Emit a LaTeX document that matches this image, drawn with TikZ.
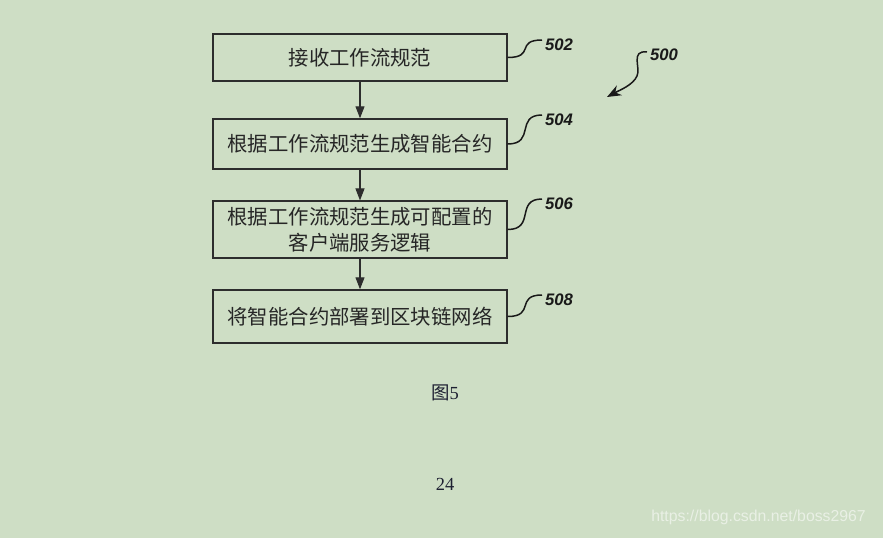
\documentclass[tikz,border=0pt]{standalone}
\usepackage{fontspec}
\setmainfont{Liberation Serif}
\newfontfamily\cjk{Noto Sans CJK SC}
\newfontfamily\refsans{Liberation Sans}
\usetikzlibrary{arrows.meta, positioning, calc}
\definecolor{bggreen}{RGB}{206,222,197}
\definecolor{linegray}{RGB}{45,45,45}
\definecolor{capblue}{RGB}{30,32,50}
\tikzset{
    stepbox/.style={draw=linegray, line width=0.8pt, minimum width=5.88cm,
        minimum height=1cm, align=center, text=black!85,
        font=\cjk\fontsize{11.6}{14.8}\selectfont},
    flow/.style={-{Triangle[length=2.4mm, width=1.8mm]}, line width=0.6pt, draw=linegray},
    tag/.style={font=\refsans\bfseries\itshape\fontsize{9.5}{10}\selectfont,
        inner sep=0pt, text=black!90},
    lead/.style={line width=0.85pt, draw=black!90},
}
\begin{document}
\begin{tikzpicture}[x=0.02cm, y=-0.02cm]
        \fill[bggreen] (0,0) rectangle (883,538);
        \useasboundingbox (0,0) rectangle (883,538);

        % 步骤框
        \node[stepbox, minimum height=0.94cm] (B1) at (360,57.5) {接收工作流规范};
        \node[stepbox] (B2) at (360,144) {根据工作流规范生成智能合约};
        \node[stepbox, minimum height=1.06cm] (B3) at (360,229.5) {根据工作流规范生成可配置的\\客户端服务逻辑};
        \node[stepbox, minimum height=1.06cm] (B4) at (360,316.5) {将智能合约部署到区块链网络};

        \draw[flow] (B1) -- (B2);
        \draw[flow] (B2) -- (B3);
        \draw[flow] (B3) -- (B4);

        % 编号
        \node[tag] (t502) at (559,45) {502};
        \node[tag] (t504) at (559,120) {504};
        \node[tag] (t506) at (559,204) {506};
        \node[tag] (t508) at (559,300) {508};
        \coordinate (e502) at (542,40);
        \coordinate (e504) at (542,115);
        \coordinate (e506) at (542,199);
        \coordinate (e508) at (542,295);
        \draw[lead] (B1.east) .. controls +(28,0) and +(-27,0) .. (e502);
        \draw[lead] (B2.east) .. controls +(28,0) and +(-27,0) .. (e504);
        \draw[lead] (B3.east) .. controls +(28,0) and +(-27,0) .. (e506);
        \draw[lead] (B4.east) .. controls +(28,0) and +(-27,0) .. (e508);

        \node[tag] (t500) at (664,55) {500};
        \coordinate (s500) at (647,52);
        \coordinate (e500) at (607,97);
        \draw[lead, -{Stealth[length=2.8mm, width=2.2mm]}] (s500) .. controls (630,50) and (641,68) .. (637,76)
            .. controls (633,85) and (620,90) .. (e500);

        % 图号与页码
        \node[text=capblue, font=\fontsize{10.5}{12}\selectfont] (cap) at (445,393) {{\cjk 图}5};
        \node[text=capblue, font=\fontsize{10.5}{12}\selectfont] (pg) at (445,484) {24};
        \node[anchor=east, text=white!55!bggreen, font=\refsans\fontsize{9}{10}\selectfont]
            (wm) at (872,517) {https://blog.csdn.net/boss2967};
    \end{tikzpicture}
\end{document}
